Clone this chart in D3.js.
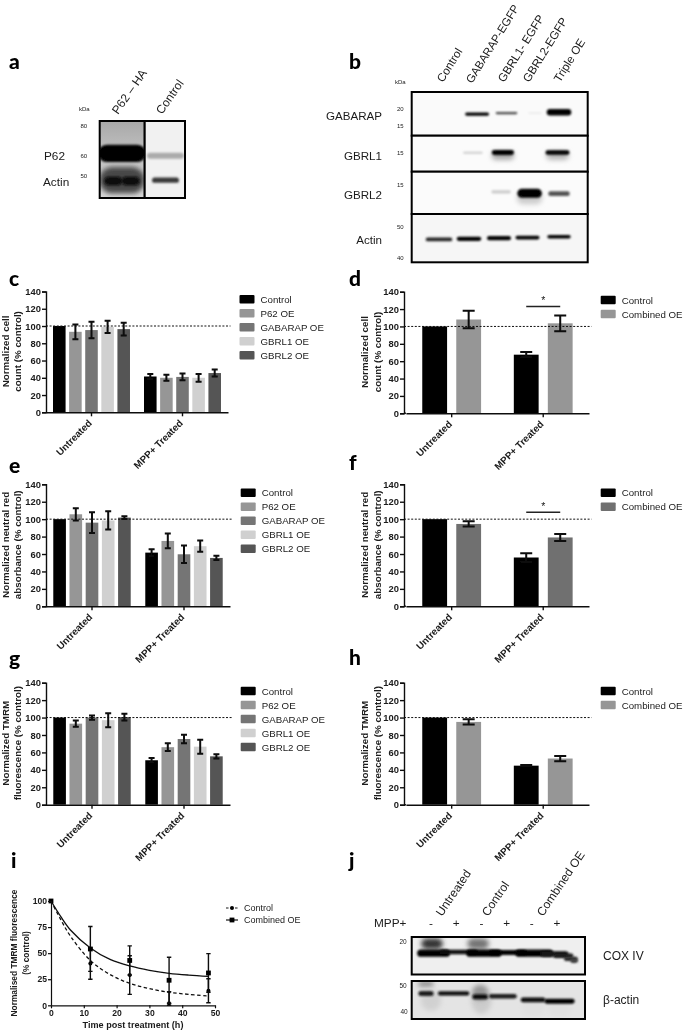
<!DOCTYPE html>
<html>
<head>
<meta charset="utf-8">
<script src="https://cdn.jsdelivr.net/npm/d3@7"></script>
<style>
  body { margin: 0; background: #fff; }
  svg { display: block; }
  text { font-family: "Liberation Sans", Arial, sans-serif; fill: #1a1a1a; }
  .bold { font-weight: bold; }
</style>
</head>
<body>
<svg id="fig" width="685" height="1032"></svg>
<script>
// ---- data ----
const groups = ["Untreated", "MPP+ Treated"]
const fiveSeries = ["Control", "P62 OE", "GABARAP OE", "GBRL1 OE", "GBRL2 OE"]
const twoSeries = ["Control", "Combined OE"]

const cValues = [[100, 93.3, 95.3, 99, 96.4], [41.5, 40, 41, 40, 45.5]]
const cErrors = [[0, 8.5, 9.5, 7, 7.5], [3, 3.5, 4, 4.5, 4]]
const dValues = [[100, 108], [67.5, 103.6]]
const dErrors = [[0, 10], [3, 9]]
const eValues = [[100, 105.6, 96, 98.5, 101.8], [61.6, 75, 59.7, 69, 55.5]]
const eErrors = [[0, 7, 12, 10.5, 1.5], [4, 8.5, 10, 6.5, 2.5]]
const fValues = [[100, 94.5], [56, 79]]
const fErrors = [[0, 3], [5, 4]]
const gValues = [[100, 93, 100, 97, 100.5], [51, 66, 75.4, 66.6, 55.5]]
const gErrors = [[0, 3.5, 2.5, 8, 4], [2.5, 4.5, 5, 8, 2.5]]
const hValues = [[100, 95], [44.8, 53]]
const hErrors = [[0, 3], [0.7, 3]]

const fiveColors = ["#000000", "#969696", "#757575", "#d0d0d0", "#555555"]

// panel i
const timeHours = [12, 24, 36, 48]
const iControlMean = [40, 29, 2, 14]
const iControlErr = [15, 18.5, 11, 11.5]
const iCombinedMean = [54, 43, 24, 31]
const iCombinedErr = [21.5, 14, 22, 18.5]
const curveHours = [0, 3, 6, 12, 18, 24, 30, 36, 42, 48]
const iControlCurve = [100, 82, 66, 43, 29.5, 21, 16, 12.5, 10.5, 9]
const iCombinedCurve = [100, 85, 72, 55, 44, 37.7, 33.5, 30.7, 29, 27.8]

// blot bands: [lane, span in lanes, kDa, spread in kDa, density, soft]
const aP62Bands = [[1, 1.05, 48, 12, 0.72, 1], [1, 1.1, 61.6, 10, 1], [0.8, 0.42, 47.3, 3.8, 0.95], [1.2, 0.42, 47.3, 3.8, 0.95]]
const aControlBands = [[2, 0.85, 60, 3.4, 0.33], [2, 0.62, 47.6, 2.4, 0.78]]
const bGabarapBands = [[2.27, 0.8, 18.1, 1, 1], [3.25, 0.72, 18.4, 0.7, 0.72], [4.2, 0.45, 18.4, 0.4, 0.1], [5, 0.82, 18.7, 2, 1]]
const bGbrl1Bands = [[2.13, 0.65, 14.8, 0.5, 0.2], [3.13, 0.75, 14.2, 2, 0.35, 1], [3.13, 0.74, 14.9, 1.2, 1], [4.95, 0.75, 14.2, 2, 0.3, 1], [4.95, 0.8, 14.9, 1.1, 1]]
const bGbrl2Bands = [[3.07, 0.65, 13.2, 0.7, 0.2], [4.02, 0.85, 12, 2.5, 0.2, 1], [4.02, 0.82, 12.9, 1.9, 1], [5, 0.72, 12.8, 1, 0.68]]
const bActinBands = [[1, 0.88, 45.4, 1.2, 0.85], [2, 0.82, 45.6, 1.4, 1], [3, 0.8, 45.8, 1.4, 1], [3.95, 0.8, 46, 1.2, 1], [5, 0.78, 46.3, 1.2, 1]]
const jCoxBands = [[1.04, 0.85, 19.2, 3.4, 0.8, 1], [2.87, 0.85, 19.2, 3.4, 0.55, 1], [1.1, 1.3, 16.3, 2, 1], [2.1, 1.5, 16.6, 1.3, 0.95], [3.1, 1.4, 16.3, 2, 1], [4.05, 1.5, 16.5, 1.4, 1], [5.1, 1.5, 16.3, 2, 1], [5.9, 1.1, 16.1, 1.4, 0.92], [6.25, 0.8, 15.6, 1.2, 0.9], [6.55, 0.55, 14.8, 1.1, 0.85], [6.68, 0.3, 14.3, 1, 0.75]]
const jActinBands = [[0.8, 0.6, 50.5, 2.5, 0.45, 1], [1, 0.8, 44, 8, 0.18, 1], [3, 0.8, 44, 10, 0.2, 1], [5.05, 0.9, 41, 6, 0.12, 1], [6.1, 0.9, 41, 6, 0.12, 1], [0.8, 0.6, 46.5, 2, 0.9], [1.9, 1.25, 46.5, 1.7, 0.95], [2.95, 0.62, 47, 6, 0.42, 1], [2.95, 0.62, 45.2, 2, 0.95], [3.85, 1.1, 45.4, 1.8, 0.9], [5.05, 0.98, 44, 1.8, 0.95], [6.1, 1.2, 43.5, 1.8, 1]]

const root = d3.select("#fig")
const defs = root.append("defs")
defs.append("filter").attr("id", "blur").attr("x", "-20%").attr("y", "-100%").attr("width", "140%").attr("height", "300%")
  .append("feGaussianBlur").attr("stdDeviation", 1.05)
defs.append("filter").attr("id", "soft").attr("x", "-30%").attr("y", "-100%").attr("width", "160%").attr("height", "300%")
  .append("feGaussianBlur").attr("stdDeviation", 2.6)
defs.append("filter").attr("id", "haze").append("feGaussianBlur").attr("stdDeviation", 0.4)
defs.append("filter").attr("id", "page").attr("filterUnits", "userSpaceOnUse")
  .attr("x", 0).attr("y", 0).attr("width", 685).attr("height", 1032)
  .append("feGaussianBlur").attr("stdDeviation", 0.3)
// whole figure is a soft scan in the original
const svg = root.append("g").attr("filter", "url(#page)")
svg.append("rect").attr("width", 685).attr("height", 1032).attr("fill", "#fff")

const p62Bg = defs.append("linearGradient").attr("id", "p62bg").attr("x2", 0).attr("y2", 1)
p62Bg.append("stop").attr("offset", 0).attr("stop-color", "#a8a8a8")
p62Bg.append("stop").attr("offset", 0.4).attr("stop-color", "#c0c0c0")
p62Bg.append("stop").attr("offset", 1).attr("stop-color", "#d6d6d6")

const density = d3.scaleLinear().domain([0, 1]).range(["#ffffff", "#000000"])
let clipId = 0

function label(sel, x, y, str, size, opts = {}) {
  return sel.append("text").attr("x", x).attr("y", y).attr("font-size", size)
    .attr("text-anchor", opts.anchor || "start")
    .attr("class", opts.bold ? "bold" : null)
    .text(str)
}

function slanted(x, y, str, angle, size = 12) {
  svg.append("text").attr("transform", `translate(${x},${y}) rotate(${angle})`)
    .attr("font-size", size).text(str)
}

function panelLetter(str, x, y) {
  svg.append("text").attr("x", x).attr("y", y).text(str)
    .style("font-family", "Lato, sans-serif").style("font-weight", 900)
    .attr("font-size", 21).style("fill", "#000")
}

function drawBlot(box, lanes, kda, bands, bg) {
  clipId++
  defs.append("clipPath").attr("id", "clip" + clipId)
    .append("rect").attr("x", box[0]).attr("y", box[1]).attr("width", box[2] - box[0]).attr("height", box[3] - box[1])
  const g = svg.append("g").attr("clip-path", `url(#clip${clipId})`)
  g.append("rect").attr("x", box[0]).attr("y", box[1]).attr("width", box[2] - box[0]).attr("height", box[3] - box[1]).attr("fill", bg)
  const step = Math.abs(lanes(2) - lanes(1))
  g.selectAll("rect.band").data(bands).join("rect").attr("class", "band")
    .attr("x", d => lanes(d[0]) - d[1] * step / 2)
    .attr("width", d => d[1] * step)
    .attr("y", d => kda(d[2] + d[3] / 2))
    .attr("height", d => kda(d[2] - d[3] / 2) - kda(d[2] + d[3] / 2))
    .attr("rx", d => (kda(d[2] - d[3] / 2) - kda(d[2] + d[3] / 2)) / 2)
    .attr("fill", d => density(d[4]))
    .attr("filter", d => d[5] ? "url(#soft)" : "url(#blur)")
  svg.append("rect").attr("x", box[0]).attr("y", box[1]).attr("width", box[2] - box[0]).attr("height", box[3] - box[1])
    .attr("fill", "none").attr("stroke", "#000").attr("stroke-width", 2)
}

function drawBars(p) {
  const g = svg.append("g")
  const x = d3.scaleBand().domain(groups).range([p.x0, p.x1])
  const y = d3.scaleLinear().domain([0, 140]).range([p.yBottom, p.yTop])
  const n = p.series.length
  const pad = n > 2 ? 0.22 : 0.27
  const span = p.step * n
  const bw = x.bandwidth()
  const axisX = p.axisX || p.x0
  const inner = d3.scaleBand().domain(p.series).range([(bw - span) / 2, (bw + span) / 2])
    .paddingInner(pad).paddingOuter(pad / 2)
  const capW = n > 2 ? 6 : 12

  groups.forEach((grp, i) => {
    const row = g.append("g").attr("transform", `translate(${x(grp)},0)`)
    row.selectAll("rect").data(p.series).join("rect")
      .attr("x", s => inner(s))
      .attr("width", inner.bandwidth())
      .attr("y", (s, j) => y(p.values[i][j]))
      .attr("height", (s, j) => y(0) - y(p.values[i][j]))
      .attr("fill", (s, j) => p.colors[j])
    p.series.forEach((s, j) => {
      const err = p.errors[i][j]
      if (!err) return
      const cx = inner(s) + inner.bandwidth() / 2
      const hi = y(p.values[i][j] + err), lo = y(p.values[i][j] - err)
      const path = d3.path()
      path.moveTo(cx, hi); path.lineTo(cx, lo)
      path.moveTo(cx - capW / 2, hi); path.lineTo(cx + capW / 2, hi)
      path.moveTo(cx - capW / 2, lo); path.lineTo(cx + capW / 2, lo)
      row.append("path").attr("d", path.toString()).attr("fill", "none").attr("stroke", "#0a0a0a").attr("stroke-width", 2)
    })
  })

  g.append("line").attr("x1", axisX).attr("x2", p.x1 + 2.5).attr("y1", y(100)).attr("y2", y(100))
    .attr("stroke", "#111").attr("stroke-width", 1).attr("stroke-dasharray", "2,1.6")

  const yAxis = g.append("g").attr("transform", `translate(${axisX},0)`)
    .call(d3.axisLeft(y).tickValues(d3.range(0, 141, 20)).tickSize(4).tickPadding(1))
  const xAxis = g.append("g").attr("transform", `translate(0,${p.yBottom})`)
    .call(d3.axisBottom(x).tickSize(4).tickSizeOuter(0))
  if (axisX < p.x0) {
    g.append("line").attr("class", "domain").attr("x1", axisX).attr("x2", p.x0).attr("y1", p.yBottom).attr("y2", p.yBottom)
  }
  g.selectAll(".domain, .tick line").attr("stroke", "#111").attr("stroke-width", 1.4)
  yAxis.attr("font-family", null)
  xAxis.attr("font-family", null)
  yAxis.selectAll("text").attr("font-size", 9.4).attr("class", "bold")
  xAxis.selectAll("text").attr("font-size", 9.8).attr("class", "bold")
    .attr("text-anchor", "end").attr("dy", 0).attr("y", 0)
    .attr("transform", "translate(1,11.5) rotate(-45)")

  const mid = (p.yTop + p.yBottom) / 2 - 0.5
  p.title.forEach((line, i) => {
    g.append("text").attr("class", "bold").attr("font-size", 9.8).attr("text-anchor", "middle")
      .attr("transform", `translate(${p.titleX + i * 12.3},${mid}) rotate(-90)`).text(line)
  })

  if (p.sig) {
    g.append("line").attr("x1", x(groups[1]) + inner(p.series[0]) + inner.bandwidth() * 0.5)
      .attr("x2", x(groups[1]) + inner(p.series[1]) + inner.bandwidth() * 0.5)
      .attr("y1", y(p.sig)).attr("y2", y(p.sig)).attr("stroke", "#222").attr("stroke-width", 1.5)
    g.append("text").attr("x", x(groups[1]) + bw / 2).attr("y", y(p.sig) - 2.5).attr("text-anchor", "middle")
      .attr("font-size", 10.5).text("*")
  }

  const leg = g.append("g")
  p.series.forEach((s, j) => {
    const ly = p.legendY + j * 14
    leg.append("rect").attr("x", p.legendX).attr("y", ly - 4.2).attr("width", 15).attr("height", 8.4).attr("rx", 1)
      .attr("fill", p.colors[j])
    label(leg, p.legendX + 21, ly + 3.5, s, 9.7)
  })
}

// ---- panel a ----
panelLetter("a", 9, 69)
slanted(118, 115, "P62 \u2013 HA", -55)
slanted(162, 115, "Control", -55)
label(svg, 79, 111, "kDa", 6)
label(svg, 80.5, 128, "80", 6)
label(svg, 80.5, 158, "60", 6)
label(svg, 80.5, 177.5, "50", 6)
label(svg, 44, 160, "P62", 11.8)
label(svg, 43, 186, "Actin", 11.8)
const aLanes = d3.scaleLinear().domain([1, 2]).range([122, 165.5])
const aKda = d3.scaleLog().domain([80, 50]).range([125.5, 175])
drawBlot([99.7, 121, 144.7, 198], aLanes, aKda, aP62Bands, "url(#p62bg)")
drawBlot([144.7, 121, 185, 198], aLanes, aKda, aControlBands, "#f1f1f1")

// ---- panel b ----
panelLetter("b", 349, 69)
const bLanes = d3.scaleLinear().domain([1, 5]).range([439, 559])
const bX = 411.7, bX2 = 587.7
drawBlot([bX, 92, bX2, 135.7], bLanes, d3.scaleLog().domain([20, 15]).range([108, 125.5]), bGabarapBands, "#fafafa")
drawBlot([bX, 135.7, bX2, 171.7], bLanes, d3.scaleLog().domain([20, 15]).range([134.5, 152]), bGbrl1Bands, "#fbfbfb")
drawBlot([bX, 171.7, bX2, 214], bLanes, d3.scaleLog().domain([20, 15]).range([166.5, 184]), bGbrl2Bands, "#fbfbfb")
drawBlot([bX, 214, bX2, 262.3], bLanes, d3.scaleLog().domain([50, 40]).range([226, 257]), bActinBands, "#f6f6f6")
slanted(443, 83, "Control", -58, 11.6)
slanted(472, 84, "GABARAP-EGFP", -58, 11.4)
slanted(504, 83, "GBRL1- EGFP", -58, 11.6)
slanted(529, 83, "GBRL2-EGFP", -58, 11.6)
slanted(560, 83, "Triple OE", -58, 11.6)
label(svg, 395, 84, "kDa", 6)
label(svg, 397, 110.5, "20", 6)
label(svg, 397, 128, "15", 6)
label(svg, 397, 154.5, "15", 6)
label(svg, 397, 186.5, "15", 6)
label(svg, 397, 228.5, "50", 6)
label(svg, 397, 259.5, "40", 6)
label(svg, 382, 119.5, "GABARAP", 11.6, { anchor: "end" })
label(svg, 382, 160, "GBRL1", 11.6, { anchor: "end" })
label(svg, 382, 198.5, "GBRL2", 11.6, { anchor: "end" })
label(svg, 382, 243.5, "Actin", 11.6, { anchor: "end" })

// ---- bar panels ----
panelLetter("c", 9, 286)
drawBars({ x0: 46, x1: 228, yTop: 291.5, yBottom: 412.3, step: 16.1, series: fiveSeries, colors: fiveColors,
  values: cValues, errors: cErrors, title: ["Normalized cell", "count (% control)"], titleX: 8.5, legendX: 239.5, legendY: 299.3 })
panelLetter("d", 349, 286)
drawBars({ x0: 405.9, axisX: 404, x1: 589, yTop: 291.7, yBottom: 413.3, step: 34, series: twoSeries, colors: ["#000000", "#969696"],
  values: dValues, errors: dErrors, title: ["Normalized cell", "count (% control)"], titleX: 368.3, legendX: 600.7, legendY: 300, sig: 123 })
panelLetter("e", 9, 473)
drawBars({ x0: 46, x1: 230, yTop: 484.3, yBottom: 606.3, step: 16.2, series: fiveSeries, colors: fiveColors,
  values: eValues, errors: eErrors, title: ["Normalized neutral red", "absorbance (% control)"], titleX: 8.5, legendX: 240.7, legendY: 492.7 })
panelLetter("f", 349, 470)
drawBars({ x0: 405.9, axisX: 404, x1: 589, yTop: 484.3, yBottom: 606.3, step: 34, series: twoSeries, colors: ["#000000", "#707070"],
  values: fValues, errors: fErrors, title: ["Normalized neutral red", "absorbance (% control)"], titleX: 368.3, legendX: 600.7, legendY: 492.7, sig: 108 })
panelLetter("g", 9, 666)
drawBars({ x0: 46, x1: 230, yTop: 682.7, yBottom: 804.7, step: 16.2, series: fiveSeries, colors: fiveColors,
  values: gValues, errors: gErrors, title: ["Normalized TMRM", "fluorescence (% control)"], titleX: 8.5, legendX: 240.7, legendY: 691 })
panelLetter("h", 349, 665)
drawBars({ x0: 405.9, axisX: 404, x1: 589, yTop: 682.7, yBottom: 804.7, step: 34, series: twoSeries, colors: ["#000000", "#969696"],
  values: hValues, errors: hErrors, title: ["Normalized TMRM", "fluorescence (% control)"], titleX: 368.3, legendX: 600.7, legendY: 691 })

// ---- panel i ----
panelLetter("i", 11, 868)
const iG = svg.append("g").attr("filter", "url(#haze)")
const iX = d3.scaleLinear().domain([0, 50]).range([51, 215])
const iY = d3.scaleLinear().domain([0, 100]).range([1005.3, 901])
const iLine = d3.line().x((d, i) => iX(curveHours[i])).y(d => iY(d)).curve(d3.curveCatmullRom)
iG.append("path").attr("d", iLine(iControlCurve)).attr("fill", "none").attr("stroke", "#111").attr("stroke-width", 1.3).attr("stroke-dasharray", "3.5,2.5")
iG.append("path").attr("d", iLine(iCombinedCurve)).attr("fill", "none").attr("stroke", "#111").attr("stroke-width", 1.3)

function iSeries(means, errs, square) {
  timeHours.forEach((t, i) => {
    const cx = iX(t), hi = iY(means[i] + errs[i]), lo = iY(Math.max(means[i] - errs[i], 0))
    const path = d3.path()
    path.moveTo(cx, hi); path.lineTo(cx, lo)
    path.moveTo(cx - 2.2, hi); path.lineTo(cx + 2.2, hi)
    path.moveTo(cx - 2.2, lo); path.lineTo(cx + 2.2, lo)
    iG.append("path").attr("d", path.toString()).attr("fill", "none").attr("stroke", "#111").attr("stroke-width", 1.4)
    if (square) iG.append("rect").attr("x", cx - 2.4).attr("y", iY(means[i]) - 2.4).attr("width", 4.8).attr("height", 4.8).attr("fill", "#000")
    else iG.append("circle").attr("cx", cx).attr("cy", iY(means[i])).attr("r", 2).attr("fill", "#000")
  })
}
iSeries(iControlMean, iControlErr, false)
iSeries(iCombinedMean, iCombinedErr, true)
iG.append("rect").attr("x", iX(0) - 2.4).attr("y", iY(100) - 2.4).attr("width", 4.8).attr("height", 4.8).attr("fill", "#000")

const iAxL = iG.append("g").attr("transform", "translate(51,0)")
  .call(d3.axisLeft(iY).tickValues([0, 25, 50, 75, 100]).tickSize(3).tickPadding(1).tickSizeOuter(0))
const iAxB = iG.append("g").attr("transform", "translate(0,1005.3)")
  .call(d3.axisBottom(iX).tickValues(d3.range(0, 51, 10)).tickSize(3).tickPadding(2).tickSizeOuter(0))
iG.selectAll(".domain, .tick line").attr("stroke", "#111").attr("stroke-width", 1.2)
iAxL.attr("font-family", null); iAxB.attr("font-family", null)
iG.selectAll(".tick text").attr("font-size", 8.6).attr("class", "bold")
iG.append("text").attr("class", "bold").attr("x", 133).attr("y", 1028).attr("text-anchor", "middle").attr("font-size", 9.1).text("Time post treatment (h)")
iG.append("text").attr("class", "bold").attr("font-size", 8.4).attr("text-anchor", "middle")
  .attr("transform", "translate(17,953) rotate(-90)").text("Normalised TMRM fluorescence")
iG.append("text").attr("class", "bold").attr("font-size", 8.4).attr("text-anchor", "middle")
  .attr("transform", "translate(28.5,953) rotate(-90)").text("(% control)")
// legend of i
iG.append("line").attr("x1", 226).attr("x2", 238).attr("y1", 908).attr("y2", 908).attr("stroke", "#111").attr("stroke-width", 1.2).attr("stroke-dasharray", "2.5,2")
iG.append("circle").attr("cx", 232).attr("cy", 908).attr("r", 2).attr("fill", "#000")
iG.append("line").attr("x1", 226).attr("x2", 238).attr("y1", 920).attr("y2", 920).attr("stroke", "#111").attr("stroke-width", 1.2)
iG.append("rect").attr("x", 229.6).attr("y", 917.6).attr("width", 4.8).attr("height", 4.8).attr("fill", "#000")
label(iG, 244, 911, "Control", 9)
label(iG, 244, 923, "Combined OE", 9)

// ---- panel j ----
panelLetter("j", 349, 868)
slanted(442, 917, "Untreated", -56)
slanted(488, 917, "Control", -56)
slanted(543, 917, "Combined OE", -56)
label(svg, 374, 927, "MPP+", 11.8)
const jLanes = d3.scaleLinear().domain([1, 6]).range([431, 557])
;["-", "+", "-", "+", "-", "+"].forEach((s, i) => label(svg, jLanes(i + 1), 927, s, 11.8, { anchor: "middle" }))
drawBlot([411.7, 937, 585, 974.5], jLanes, d3.scaleLog().domain([20, 15]).range([941, 958]), jCoxBands, "#efefef")
drawBlot([411.7, 981, 585, 1019], jLanes, d3.scaleLog().domain([50, 40]).range([985, 1011]), jActinBands, "#e4e4e4")
label(svg, 399.5, 943.5, "20", 6.5)
label(svg, 399.5, 987.5, "50", 6.5)
label(svg, 400.5, 1013.5, "40", 6.5)
label(svg, 603, 960, "COX IV", 12)
label(svg, 603, 1004, "\u03b2-actin", 12)
</script>
</body>
</html>
